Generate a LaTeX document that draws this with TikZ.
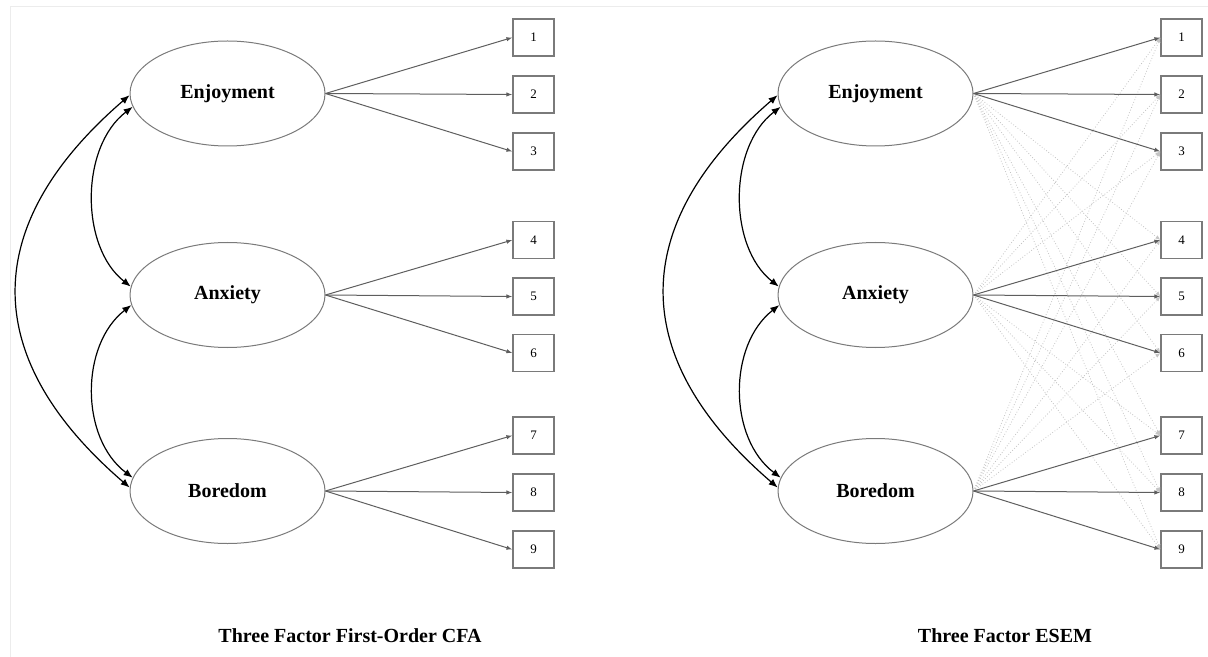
\documentclass[tikz,border=0pt]{standalone}
\usepackage{fontspec}
\setmainfont{Liberation Serif}
\usetikzlibrary{arrows.meta,shapes.geometric}
\definecolor{pathG}{HTML}{5E5E5E}
\definecolor{rimG}{HTML}{7A7A7A}
\definecolor{crossG}{HTML}{C4C4C4}
\definecolor{frameG}{HTML}{ECECEC}

\begin{document}
\begin{tikzpicture}[x=0.5pt, y=-0.5pt,
  fac/.style={ellipse, draw=rimG, line width=0.5pt, minimum width=97.5pt, minimum height=52.5pt, inner sep=0pt, font=\fontsize{10}{12}\selectfont\bfseries},
  ind/.style={rectangle, draw=rimG, line width=0.6pt, minimum width=20.5pt, minimum height=18.5pt, inner sep=0pt, font=\fontsize{6.5}{7}\selectfont},
  load/.style={draw=pathG, line width=0.5pt, -{Latex[length=3pt,width=2.2pt]}},
  cross/.style={draw=crossG, line width=0.4pt, densely dotted, -{Latex[length=2.5pt,width=2pt]}},
  cov/.style={draw=black, line width=0.6pt, {Latex[length=4.5pt,width=3.6pt]}-{Latex[length=4.5pt,width=3.6pt]}},
  ttl/.style={font=\fontsize{10}{12}\selectfont\bfseries}
]
\useasboundingbox (0,0) rectangle (1208,657);
% frame
\draw[frameG, line width=0.5pt] (10,657) -- (10,7) -- (1208,7);
\foreach \p/\dx in {L/0, R/648} {
  % factors
  \node[fac] (\p enj) at ({227.5+\dx},93.5) {Enjoyment};
  \node[fac] (\p anx) at ({227.5+\dx},295) {Anxiety};
  \node[fac] (\p bor) at ({227.5+\dx},491) {Boredom};
  % items
  \foreach \i/\y in {1/37.5, 2/94.5, 3/151.5, 4/240, 5/296.5, 6/353, 7/435.5, 8/492.5, 9/549.5}
    \node[ind] (\p\i) at ({533.5+\dx},\y) {\i};
  % covariances
  \draw[cov] (\p enj.188) .. controls ({80+\dx},147) and ({80+\dx},247) .. (\p anx.175);
  \draw[cov] (\p anx.186) .. controls ({80+\dx},345) and ({80+\dx},438) .. (\p bor.172);
  \draw[cov] (\p enj.181) .. controls ({-21+\dx},225) and ({-21+\dx},358) .. (\p bor.178);
}
% ESEM cross-loadings
\foreach \f/\list in {enj/{4,5,6,7,8,9}, anx/{1,2,3,7,8,9}, bor/{1,2,3,4,5,6}}
  \foreach \k in \list
    \draw[cross] (R\f.east) -- (R\k.west);
% main loadings
\foreach \p in {L,R}
  \foreach \f/\a/\b/\c in {enj/1/2/3, anx/4/5/6, bor/7/8/9}
    \foreach \k in {\a,\b,\c}
      \draw[load] (\p\f.east) -- (\p\k.west);
% titles
\node[ttl] (cfaT) at (350,636) {Three Factor First-Order CFA};
\node[ttl] (esemT) at (1005,636) {Three Factor ESEM};
\end{tikzpicture}
\end{document}
